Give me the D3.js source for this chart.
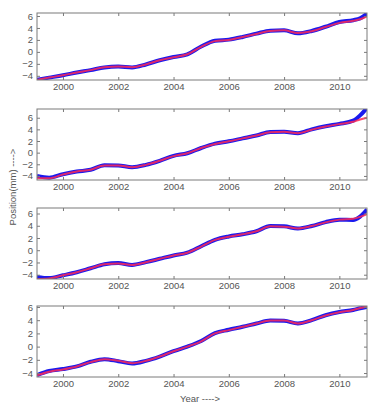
<!DOCTYPE html>
<html><head><meta charset="utf-8">
<script src="https://cdn.jsdelivr.net/npm/d3@7"></script>
<style>
html,body{margin:0;padding:0;background:#fff;}
svg{display:block;font-family:"Liberation Sans",Arial,sans-serif;}
</style></head>
<body>
<svg id="chart" width="368" height="405"></svg>
<script>
const years = [1999.06, 1999.5, 2000, 2000.5, 2001, 2001.5, 2002, 2002.5, 2003, 2003.5, 2004, 2004.5, 2005, 2005.5, 2006, 2006.5, 2007, 2007.5, 2008, 2008.5, 2009, 2009.5, 2010, 2010.5, 2010.75, 2011];
const blue1 = [-4.65,-4.3,-3.9,-3.45,-3.05,-2.6,-2.45,-2.6,-2.1,-1.4,-0.85,-0.4,0.9,1.85,2.05,2.5,3.05,3.55,3.6,3.1,3.5,4.2,5.0,5.3,5.6,6.4];
const red1  = [-4.7,-4.3,-3.9,-3.45,-3.05,-2.55,-2.45,-2.55,-2.1,-1.4,-0.9,-0.4,0.85,1.8,2.0,2.5,3.0,3.5,3.6,3.15,3.45,4.15,4.85,5.2,5.45,5.95];
const blue2 = [-4.0,-4.3,-3.7,-3.25,-2.95,-2.15,-2.2,-2.5,-2.1,-1.4,-0.55,-0.1,0.8,1.55,1.95,2.45,2.95,3.55,3.6,3.35,4.0,4.55,4.95,5.5,6.4,7.7];
const red2  = [-4.4,-4.4,-3.75,-3.25,-2.95,-2.2,-2.2,-2.5,-2.1,-1.4,-0.6,-0.1,0.8,1.5,1.95,2.45,2.95,3.5,3.6,3.35,3.95,4.5,4.9,5.3,5.7,6.0];
const blue3 = [-4.35,-4.55,-4.1,-3.6,-2.95,-2.3,-2.1,-2.4,-1.95,-1.4,-0.85,-0.4,0.65,1.7,2.25,2.6,3.1,3.95,3.9,3.55,3.95,4.6,5.0,4.95,5.5,6.65];
const red3  = [-4.7,-4.6,-4.1,-3.6,-2.95,-2.3,-2.15,-2.4,-1.95,-1.4,-0.85,-0.4,0.6,1.7,2.2,2.6,3.1,3.9,3.85,3.55,3.95,4.55,5.0,5.15,5.45,5.9];
const blue4 = [-4.3,-3.7,-3.4,-3.0,-2.3,-1.9,-2.2,-2.55,-2.15,-1.5,-0.7,0.0,0.85,2.05,2.55,3.0,3.5,3.95,3.9,3.5,4.0,4.75,5.25,5.55,5.8,6.0];
const red4  = [-4.35,-3.8,-3.45,-3.0,-2.35,-1.9,-2.15,-2.5,-2.15,-1.5,-0.7,0.0,0.8,2.0,2.5,3.0,3.5,3.95,3.95,3.5,4.0,4.7,5.2,5.55,5.85,6.05];
const yTicks = [-4, -2, 0, 2, 4, 6];
const xTicks = [2000, 2002, 2004, 2006, 2008, 2010];
const xDomain = [1999.06, 2011.0];
const yDomains = [[-4.7, 6.5], [-4.7, 7.5], [-4.7, 6.9], [-4.6, 6.15]];
const panelTops = [13, 109, 208, 306];
const panelBottoms = [80, 180, 279, 377];
const series = [[blue1, red1], [blue2, red2], [blue3, red3], [blue4, red4]];

const svg = d3.select("#chart");
const left = 37, right = 367;
const x = d3.scaleLinear().domain(xDomain).range([left, right]);
const axisColor = "#7a7a7a", textColor = "#555";

series.forEach((s, i) => {
  const top = panelTops[i], bottom = panelBottoms[i];
  const y = d3.scaleLinear().domain(yDomains[i]).range([bottom, top]);
  const g = svg.append("g");
  const clipId = "clip" + i;
  g.append("clipPath").attr("id", clipId).append("rect")
    .attr("x", left).attr("y", top).attr("width", right - left).attr("height", bottom - top);
  const line = d3.line().x((d, j) => x(years[j])).y(d => y(d)).curve(d3.curveMonotoneX);
  const lg = g.append("g").attr("clip-path", `url(#${clipId})`);
  lg.append("path").datum(s[0]).attr("d", line).attr("fill", "none")
    .attr("stroke", "#1a1aee").attr("stroke-width", 4).attr("stroke-linejoin", "round");
  lg.append("path").datum(s[1]).attr("d", line).attr("fill", "none")
    .attr("stroke", "#ff2a55").attr("stroke-width", 2).attr("stroke-opacity", 0.85).attr("stroke-linejoin", "round");

  const bottomAxis = d3.axisBottom(x).tickValues(xTicks).tickFormat(d3.format("d")).tickSizeInner(-3).tickSizeOuter(0).tickPadding(3);
  const topAxis = d3.axisTop(x).tickValues(xTicks).tickFormat("").tickSizeInner(-3).tickSizeOuter(0);
  const leftAxis = d3.axisLeft(y).tickValues(yTicks).tickFormat(d3.format("d")).tickSizeInner(-3).tickSizeOuter(0).tickPadding(4);
  const rightAxis = d3.axisRight(y).tickValues(yTicks).tickFormat("").tickSizeInner(-3).tickSizeOuter(0);
  const axes = [
    g.append("g").attr("transform", `translate(0,${bottom})`).call(bottomAxis),
    g.append("g").attr("transform", `translate(0,${top})`).call(topAxis),
    g.append("g").attr("transform", `translate(${left},0)`).call(leftAxis),
    g.append("g").attr("transform", `translate(${right},0)`).call(rightAxis)
  ];
  axes.forEach(a => {
    a.select(".domain").remove();
    a.selectAll("line").attr("stroke", axisColor);
    a.selectAll("text").attr("fill", textColor).style("font-size", "9.5px").style("font-family", "Liberation Sans, Arial, sans-serif");
  });
  g.append("rect").attr("x", left).attr("y", top).attr("width", right - left).attr("height", bottom - top)
    .attr("fill", "none").attr("stroke", axisColor).attr("stroke-width", 1);
});

svg.append("text").attr("transform", "translate(16,187) rotate(-90)").attr("text-anchor", "middle")
  .attr("fill", textColor).style("font-size", "9.5px").text("Position(mm) ---->");
svg.append("text").attr("x", 200).attr("y", 402).attr("text-anchor", "middle")
  .attr("fill", textColor).style("font-size", "9.5px").text("Year ---->");
</script>
</body></html>
